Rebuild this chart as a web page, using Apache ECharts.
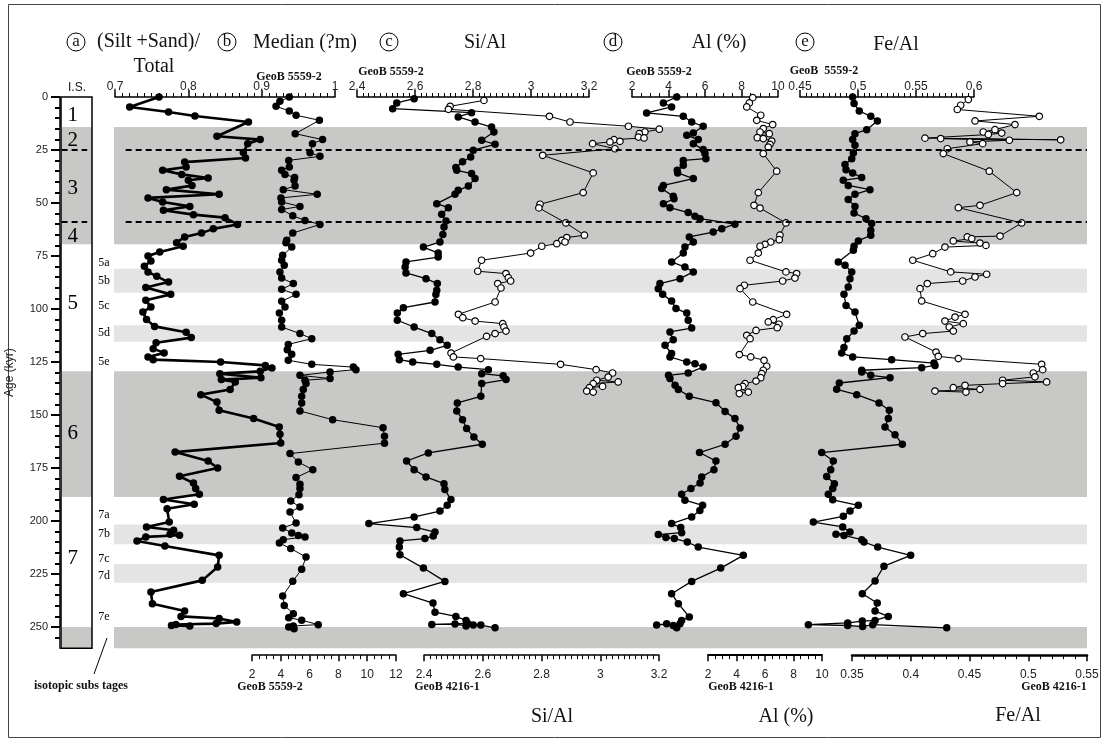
<!DOCTYPE html>
<html>
<head>
<meta charset="utf-8">
<script src="https://cdn.jsdelivr.net/npm/echarts@6/dist/echarts.min.js"></script>
<style>
html,body{margin:0;padding:0;background:#fff}
#chart{width:1106px;height:745px}
</style>
</head>
<body>
<div id="chart"></div>
<script>
// ---- Age framework (kyr) ----
const AGE_MIN = 0, AGE_MAX = 260;
const ageLabelTicks = [0, 25, 50, 75, 100, 125, 150, 175, 200, 225, 250];
const ageMinorTicks = [5,10,15,20,30,35,40,45,55,60,65,70,80,85,90,95,105,110,115,120,130,135,140,145,155,160,165,170,180,185,190,195,205,210,215,220,230,235,240,245,255];
const glacialBands = [[14.2, 69.5], [129.4, 188.7], [250, 260.8]];
const substageBands = [[81, 92.3], [107.7, 115.5], [201.6, 211], [220.3, 229.1]];
const boundaryAges = [25, 59];
const isotopeStages = [['1', 8.6], ['2', 20.5], ['3', 43], ['4', 65.7], ['5', 97.4], ['6', 158.7], ['7', 217.6]];
const isotopeSubstages = [['5a', 78], ['5b', 86.5], ['5c', 98.3], ['5d', 111.4], ['5e', 125], ['7a', 197.3], ['7b', 206], ['7c', 217.7], ['7d', 226], ['7e', 245]];

// ---- (a) (Silt+Sand)/Total, GeoB 5559-2 : [age, value] ----
const siltSand5559 = [[0,0.760],[4.7,0.720],[7.1,0.773],[9.0,0.809],[11.8,0.882],[18.5,0.839],[20.1,0.898],[22,0.881],[26.2,0.875],[28.8,0.878],[30.7,0.795],[33,0.797],[34.6,0.765],[36.5,0.791],[38.2,0.827],[39.3,0.800],[41.8,0.805],[43.7,0.770],[45.9,0.842],[47.6,0.745],[49.5,0.765],[51.6,0.802],[53.4,0.766],[55.5,0.807],[56.9,0.850],[60.1,0.867],[62.2,0.834],[64.2,0.818],[66,0.795],[68.7,0.784],[70.4,0.793],[73.1,0.761],[75,0.745],[77.4,0.749],[79.8,0.740],[82.5,0.745],[84.6,0.757],[87.3,0.773],[89.9,0.742],[93.1,0.776],[95.9,0.742],[99.1,0.749],[101.4,0.738],[105,0.743],[108.2,0.754],[111,0.797],[113.5,0.804],[115.9,0.756],[118.7,0.752],[120.7,0.767],[122.6,0.745],[123.9,0.752],[125,0.844],[126.6,0.905],[127.8,0.914],[129.4,0.898],[130.5,0.843],[132.4,0.899],[133.3,0.845],[134.4,0.864],[138,0.857],[140.4,0.817],[143.9,0.839],[147.8,0.842],[151.7,0.889],[155.7,0.924],[159.1,0.925],[163.2,0.926],[167.5,0.782],[171.7,0.827],[175,0.840],[178.9,0.788],[182.1,0.807],[184.7,0.810],[187.4,0.815],[189.9,0.766],[192.1,0.808],[194.2,0.771],[200.5,0.774],[202.8,0.743],[204.4,0.780],[206.3,0.775],[206.7,0.788],[207.5,0.742],[209.4,0.730],[211.8,0.768],[216.2,0.842],[221.7,0.840],[228,0.819],[233.5,0.749],[239,0.751],[242.5,0.795],[245,0.790],[246,0.842],[247.6,0.866],[248.4,0.838],[248.8,0.783],[249.3,0.777],[249.5,0.802]];

// ---- (b) Median grain size, GeoB 5559-2 ----
const median5559 = [[0,4.59],[2,3.94],[4.4,3.67],[6.6,4.59],[8.6,5.06],[11,6.68],[17.3,5.0],[20.1,6.9],[22,6.2],[26.3,6.03],[28,6.72],[29.9,4.55],[33,4.59],[34.6,4.06],[36.5,4.29],[38,4.96],[39.3,4.92],[42,4.99],[43.7,4.17],[45.9,6.53],[47.6,4.01],[49.5,4.06],[51.6,5.33],[53.1,4.06],[56,4.83],[58.2,5.68],[60.1,6.72],[64.2,4.83],[67.6,4.41],[68.7,4.36],[70.8,4.76],[74.7,4.13],[77,4.06],[79.4,4.24],[82.5,3.94],[85.4,4.06],[88,4.87],[90.7,4.06],[93.1,5.06],[96.4,4.06],[99.1,4.29],[101.9,3.9],[105.3,4.06],[108.5,4.06],[111.6,5.33],[114,6.15],[116.7,4.52],[119.2,4.45],[121.4,4.76],[124.2,4.52],[126.1,6.15],[127.4,9.04],[128.6,9.22],[129.7,7.42],[131.3,5.33],[132.8,7.42],[133.6,5.68],[135.2,5.75],[138,5.56],[141.2,5.45],[144.3,5.45],[148.1,5.33],[152.2,7.6],[156,11.1],[160,11.2],[163.3,11.2],[168.2,4.64],[172.2,5.22],[175.8,6.22],[179.5,5.06],[182.7,5.33],[184.7,5.33],[187.6,5.26],[190.6,4.69],[193.4,5.33],[195.8,4.64],[201,5.06],[203.3,4.13],[205.7,4.76],[206.8,5.22],[207.5,5.68],[208.8,4.17],[210.4,3.9],[213,4.69],[217,5.75],[222.8,5.45],[228.4,4.83],[235.4,4.13],[239.8,4.24],[243.7,4.87],[245.6,4.55],[246.8,5.45],[248.9,6.6],[249.5,4.87],[250,4.55],[250.8,4.92]];

// ---- (c) Si/Al ----
const siAl5559 = [[0.8,2.597],[2.8,2.537],[5.5,2.523],[7.4,2.795],[9.4,2.749],[11.8,2.807],[14.2,2.864],[16.5,2.872],[20.4,2.83],[22.3,2.876],[25.1,2.801],[28.3,2.792],[30.6,2.764],[33.3,2.741],[34.6,2.744],[36.1,2.795],[38.5,2.807],[42,2.784],[44,2.749],[45.9,2.738],[50.3,2.675],[52.2,2.715],[55.3,2.692],[58.5,2.707],[61.3,2.7],[64.8,2.696],[68.4,2.686],[70.8,2.629],[73.6,2.68],[75.5,2.68],[77.8,2.569],[80.2,2.566],[83,2.569],[85.7,2.638],[88,2.677],[91.2,2.675],[93.2,2.672],[96.7,2.669],[99.4,2.56],[101.9,2.539],[105.3,2.539],[108.5,2.597],[111.6,2.658],[114.5,2.686],[117.1,2.711],[119.5,2.652],[121.4,2.542],[123.9,2.546],[125,2.592],[126.1,2.675],[127.4,2.749],[128.6,2.853],[130.5,2.83],[131.5,2.904],[133.3,2.914],[135.2,2.83],[141.2,2.827],[144.3,2.746],[148.1,2.744],[152.2,2.764],[156.4,2.778],[160.4,2.803],[163.8,2.832],[167.9,2.646],[171.7,2.571],[175.8,2.597],[179.2,2.638],[182.4,2.7],[185.2,2.703],[189.9,2.724],[192.6,2.711],[195.3,2.686],[198.1,2.597],[201.2,2.441],[203.1,2.606],[205.2,2.669],[207.1,2.663],[208.3,2.634],[209.4,2.548],[212.3,2.546],[215.9,2.548],[222.2,2.629],[228.5,2.703],[234.3,2.56],[238.7,2.662],[243,2.669],[245,2.741],[246.9,2.776],[248.3,2.782],[248.8,2.658],[248.6,2.738],[249.5,2.776],[249.1,2.801],[249.1,2.827],[250.4,2.876]];
const siAl4216 = [[1.6,2.604],[4.4,2.489],[5.8,2.483],[9.1,2.827],[11.8,2.897],[13.8,3.096],[15.2,3.201],[16.5,3.152],[17.3,3.133],[18.9,3.13],[19.3,3.149],[20.1,3.047],[20.9,3.067],[21.2,3.033],[22,2.974],[24.4,3.05],[27.5,2.804],[35.8,2.976],[45.1,2.942],[50.6,2.795],[52.3,2.791],[59.4,2.883],[65.2,2.946],[66.3,2.886],[67.6,2.869],[68.4,2.88],[69.2,2.852],[70.4,2.801],[73.6,2.763],[77,2.596],[82.2,2.583],[83.3,2.679],[85.2,2.687],[86.8,2.695],[88,2.651],[90.1,2.662],[96.7,2.642],[102.5,2.517],[104.1,2.532],[105.7,2.574],[106.9,2.668],[108.5,2.672],[110.4,2.679],[111.6,2.642],[112.9,2.613],[120.8,2.492],[122.6,2.5],[123.4,2.593],[126.1,2.865],[128.6,2.986],[130.2,3.042],[132.1,3.027],[133.6,2.988],[134.4,3.061],[135.2,2.976],[136.5,3.008],[137.1,2.963],[138.7,2.954],[139.2,2.976]];

// ---- (d) Al (%) ----
const al5559 = [[0,4.45],[2.8,3.72],[4.7,4.17],[7.5,2.8],[9.1,4.81],[11.8,5.27],[13.8,5.9],[17,5.36],[18.1,5.0],[20.1,5.63],[22,5.36],[24.8,5.9],[26.7,6.0],[29.1,6.05],[29.9,4.81],[32.2,4.81],[34.6,4.48],[35.8,4.5],[38.5,5.36],[41.7,3.72],[43.2,3.63],[46.8,4.26],[48,4.3],[50.3,3.72],[52.2,4.08],[54.5,5.08],[56.3,5.45],[57.4,5.73],[60,7.64],[62.1,6.92],[63.7,6.45],[66,5.14],[68.4,5.36],[70.8,4.9],[73.6,4.81],[77.8,4.17],[80.2,4.9],[82.5,5.36],[85.7,4.63],[88,3.53],[90.4,3.44],[93.1,3.68],[96.2,4.17],[99.8,4.41],[101.9,5.0],[105.3,5.08],[109,5.27],[110.8,4.08],[114.5,4.26],[117.1,3.81],[121,4.17],[122.6,4.08],[125,5.0],[125.8,5.45],[127.4,5.9],[130.2,5.08],[131.3,4.0],[132.8,4.08],[136,4.36],[138,4.54],[141.2,5.14],[144.2,6.6],[148.3,7.1],[151.7,7.64],[156.1,7.92],[160,7.7],[163.8,7.1],[167.7,5.7],[171.7,6.6],[175.8,6.49],[179.2,5.82],[182.1,5.73],[184.7,5.23],[187.4,4.72],[190.2,4.9],[192.6,5.87],[195,5.72],[198.1,5.27],[201.2,4.17],[203.1,4.67],[205.5,4.72],[206.4,3.44],[207.8,3.86],[208.3,4.32],[209.9,5.03],[212.3,5.63],[216.2,8.1],[222.2,6.86],[228.5,5.27],[234.3,4.17],[239,4.54],[245.3,5.14],[246.9,4.72],[248.5,4.63],[249,3.35],[248.5,3.9],[249.3,4.26],[250.4,4.45]];
const al4216 = [[0.3,5.14],[2.8,4.9],[4.7,4.72],[8.6,5.7],[11,5.42],[13,6.54],[14.9,5.88],[16.5,5.65],[17.3,6.3],[19.2,5.46],[19.6,5.88],[20.8,6.47],[22.3,6.35],[23.6,6.23],[26.7,5.88],[35,6.82],[45.1,5.53],[51.1,5.23],[52.4,5.65],[59.4,7.47],[65.2,7.05],[67.3,7.0],[68.4,6.4],[69.5,6.0],[70.4,5.65],[73.6,5.53],[77,4.95],[82.5,7.47],[83.3,8.22],[85.4,8.1],[86.8,7.24],[88.8,4.55],[90.4,4.25],[96.7,5.14],[102.5,7.52],[105,6.58],[106.1,6.23],[107.2,6.98],[108.8,6.86],[110.1,5.37],[112.4,4.72],[114,4.95],[121.5,4.2],[122.6,5.0],[124.2,5.93],[127,6.12],[128.9,5.88],[130.5,5.77],[132.4,5.7],[134,5.37],[135.2,4.6],[136.5,4.44],[137.1,4.13],[139.2,4.83],[139.9,4.2]];

// ---- (e) Fe/Al ----
const feAl5559 = [[0,0.4954],[3.1,0.4966],[6.6,0.5011],[9.1,0.511],[11.3,0.5167],[15.4,0.5075],[17.3,0.4974],[20.1,0.4954],[22.8,0.4974],[26.4,0.496],[29.1,0.4946],[31.8,0.4888],[34.3,0.4897],[35.8,0.4954],[38,0.5032],[39.3,0.4873],[41.7,0.4916],[43.7,0.5103],[45.9,0.4974],[48.4,0.4916],[51.6,0.4974],[54.7,0.4966],[57.4,0.5069],[59.7,0.5118],[62.9,0.511],[65.2,0.511],[67.9,0.5003],[70.4,0.4966],[72.3,0.496],[77.8,0.483],[79.4,0.4888],[82.5,0.4946],[85.7,0.4931],[89.6,0.4916],[93.1,0.4879],[98.3,0.4897],[101.4,0.4974],[107.7,0.5011],[110.4,0.4966],[114,0.4903],[118.2,0.4879],[120.8,0.4859],[122.6,0.4954],[123.9,0.529],[125.5,0.5655],[126.6,0.5664],[127.7,0.5549],[128.9,0.5032],[129.7,0.5032],[131.3,0.511],[132.4,0.5276],[134.9,0.4839],[137.9,0.4816],[140.4,0.4989],[144.3,0.5181],[147.8,0.527],[151.7,0.5262],[155.7,0.5233],[159.3,0.5319],[163.8,0.5382],[167.7,0.4687],[171.7,0.4787],[175.8,0.4765],[179,0.473],[182.4,0.4796],[184.7,0.4782],[187.4,0.4744],[190,0.4782],[192.6,0.5003],[195.3,0.4931],[197.8,0.4873],[200.5,0.4615],[202.8,0.4868],[205.2,0.4931],[206.3,0.481],[206.8,0.4879],[208.8,0.5032],[209.9,0.5052],[212.3,0.517],[216.2,0.5454],[221.3,0.5224],[228.3,0.5147],[234.3,0.5037],[238.7,0.5166],[242.5,0.5147],[245,0.5261],[246.9,0.5147],[247.2,0.5037],[248.1,0.4911],[248.9,0.4572],[249.3,0.4911],[249.8,0.504],[248.9,0.5127],[250.4,0.5765]];
const feAl4216 = [[1.2,0.449],[3.9,0.4425],[5.9,0.4396],[9.1,0.5094],[11.3,0.4547],[13,0.4887],[15.4,0.4717],[16.5,0.4617],[17,0.4774],[17.7,0.466],[19.4,0.4121],[20.2,0.5276],[19.6,0.4255],[20.4,0.4839],[21.2,0.4504],[22,0.4612],[24.4,0.4311],[26.7,0.4277],[35,0.4668],[45.1,0.4902],[51.1,0.4589],[52.2,0.4405],[59.4,0.4944],[65.6,0.476],[66,0.4481],[66.8,0.4519],[67.9,0.4362],[68.9,0.4589],[70,0.464],[70.8,0.4291],[73.9,0.4187],[77,0.4017],[82.5,0.434],[83.6,0.4646],[84.9,0.4547],[86.8,0.4442],[88,0.4141],[90.4,0.4079],[96.2,0.4093],[102.5,0.4462],[103.8,0.4377],[105.7,0.4291],[106.9,0.4447],[108.5,0.4328],[110.4,0.4362],[111.6,0.4102],[113.2,0.3951],[120.3,0.4215],[122.3,0.4234],[123.4,0.4405],[126.1,0.5114],[128.6,0.5123],[130.2,0.5043],[132,0.5057],[133.6,0.4782],[134.4,0.5157],[135.2,0.4782],[136,0.4462],[137.1,0.4362],[137.9,0.4589],[138.7,0.4206],[139.2,0.447]];

// ---- layout ----
const SERIF = "'Liberation Serif','Times New Roman',serif";
const SANS = "'Liberation Sans',Arial,sans-serif";
const TOP = 97, HEIGHT = 551.2;

const gridBoxes = [
  [60, 32],   // 0 isotope stages
  [94, 20],   // 1 substage labels
  [114, 973], // 2 background bands
  [115, 220], // 3 (a)
  [252, 144], // 4 (b)
  [357, 232], // 5 (c) GeoB 5559-2
  [424, 235], // 6 (c) GeoB 4216-1
  [632, 146], // 7 (d) GeoB 5559-2
  [708, 114], // 8 (d) GeoB 4216-1
  [800, 174], // 9 (e) GeoB 5559-2
  [852, 235], // 10 (e) GeoB 4216-1
  [60, 32]    // 11 age scale
];
const grid = gridBoxes.map(([l, w]) => ({left: l, width: w, top: TOP, height: HEIGHT, containLabel: false}));

function hiddenX(gi) {
  return {gridIndex: gi, type: 'value', min: 0, max: 1, show: false};
}
function scaleAxis(gi, pos, min, max, interval, minor, lineW) {
  const top = pos === 'top';
  return {
    gridIndex: gi, type: 'value', position: pos, min, max, interval,
    offset: top ? 0 : 7,
    axisLine: {show: true, onZero: false, lineStyle: {color: '#000', width: lineW}},
    axisTick: {show: true, length: top ? 7 : 6, lineStyle: {color: '#000', width: 1.5}},
    minorTick: {show: true, splitNumber: minor, length: 4, lineStyle: {color: '#000', width: 1}},
    axisLabel: {show: true, margin: top ? 4 : 13, fontSize: 12, color: '#222', fontFamily: SANS},
    splitLine: {show: false}, minorSplitLine: {show: false}
  };
}
const xAxis = [
  hiddenX(0), hiddenX(1), hiddenX(2),
  scaleAxis(3, 'top', 0.7, 1.0, 0.1, 10, 1.5),
  scaleAxis(4, 'bottom', 2, 12, 2, 4, 1.5),
  scaleAxis(5, 'top', 2.4, 3.2, 0.2, 10, 1.5),
  scaleAxis(6, 'bottom', 2.4, 3.2, 0.2, 10, 1.5),
  scaleAxis(7, 'top', 2, 10, 2, 4, 1.5),
  scaleAxis(8, 'bottom', 2, 10, 2, 4, 2),
  scaleAxis(9, 'top', 0.45, 0.6, 0.05, 10, 1.5),
  scaleAxis(10, 'bottom', 0.35, 0.55, 0.05, 5, 2.5),
  hiddenX(11)
];

const yAxis = grid.map((g, i) => ({
  gridIndex: i, type: 'value', min: AGE_MIN, max: AGE_MAX, inverse: true, show: false
}));
// labelled age scale
yAxis[11] = {
  gridIndex: 11, type: 'value', min: AGE_MIN, max: AGE_MAX, inverse: true, position: 'left',
  name: 'Age (kyr)', nameLocation: 'middle', nameGap: 44, nameRotate: 90,
  nameTextStyle: {fontSize: 12, color: '#222', fontFamily: SANS},
  axisLine: {show: true, onZero: false, lineStyle: {color: '#000', width: 1.5}},
  axisTick: {show: true, length: 9, customValues: ageLabelTicks, lineStyle: {color: '#000', width: 2}},
  axisLabel: {show: true, margin: 12, fontSize: 11, color: '#222', fontFamily: SANS, customValues: ageLabelTicks},
  splitLine: {show: false}
};
// minor age ticks
yAxis.push({
  gridIndex: 11, type: 'value', min: AGE_MIN, max: AGE_MAX, inverse: true, position: 'left',
  axisLine: {show: false, onZero: false},
  axisTick: {show: true, length: 5, customValues: ageMinorTicks, lineStyle: {color: '#000', width: 2}},
  axisLabel: {show: false}, splitLine: {show: false}
});

const DARK = '#c8c8c6', LIGHT = '#e4e4e4';
const dashStyle = {color: '#000', width: 2, type: [6, 4]};

const series = [];

// background bands and stage boundaries
series.push({
  type: 'line', xAxisIndex: 2, yAxisIndex: 2, data: [[0.5, 0]], symbol: 'none',
  lineStyle: {opacity: 0}, silent: true, z: 1,
  markArea: {
    silent: true,
    data: glacialBands.map(b => [{xAxis: 0, yAxis: b[0], itemStyle: {color: DARK}}, {xAxis: 1, yAxis: b[1]}])
      .concat(substageBands.map(b => [{xAxis: 0, yAxis: b[0], itemStyle: {color: LIGHT}}, {xAxis: 1, yAxis: b[1]}]))
  },
  markLine: {
    silent: true, symbol: 'none', label: {show: false}, lineStyle: dashStyle,
    data: boundaryAges.map(a => [{coord: [0.012, a]}, {coord: [1, a]}])
  }
});
series.push({
  type: 'line', xAxisIndex: 0, yAxisIndex: 0, data: [[0.5, 0]], symbol: 'none',
  lineStyle: {opacity: 0}, silent: true, z: 1,
  markArea: {silent: true, data: glacialBands.map(b => [{xAxis: 0, yAxis: b[0], itemStyle: {color: DARK}}, {xAxis: 1, yAxis: b[1]}])},
  markLine: {
    silent: true, symbol: 'none', label: {show: false}, lineStyle: dashStyle,
    data: boundaryAges.map(a => [{coord: [0.05, a]}, {coord: [0.85, a]}])
  }
});

// stage and substage names
const nameLabel = (size) => ({show: true, position: 'inside', formatter: '{b}', fontSize: size, color: '#000',
  textBorderWidth: 0, fontFamily: SERIF});
series.push({
  type: 'scatter', xAxisIndex: 0, yAxisIndex: 0, symbolSize: 1, itemStyle: {color: 'rgba(0,0,0,0)', opacity: 1}, silent: true, z: 5,
  data: isotopeStages.map(s => ({name: s[0], value: [0.4, s[1]]})),
  label: nameLabel(21)
});
series.push({
  type: 'scatter', xAxisIndex: 1, yAxisIndex: 1, symbolSize: 1, itemStyle: {color: 'rgba(0,0,0,0)', opacity: 1}, silent: true, z: 5,
  data: isotopeSubstages.map(s => ({name: s[0], value: [0.5, s[1]]})),
  label: nameLabel(12)
});

function profile(axisIdx, pts, lineWidth, open, size) {
  return {
    type: 'line', xAxisIndex: axisIdx, yAxisIndex: axisIdx,
    data: pts.map(p => [p[1], p[0]]),
    symbol: 'circle', symbolSize: size, showSymbol: true,
    lineStyle: {color: '#000', width: lineWidth},
    itemStyle: open ? {color: '#fff', borderColor: '#000', borderWidth: 1.2} : {color: '#000', borderColor: '#000', borderWidth: 0},
    silent: true, z: open ? 4 : 3, clip: false
  };
}
series.push(profile(3, siltSand5559, 2.6, false, 7.5));
series.push(profile(4, median5559, 1, false, 7.5));
series.push(profile(5, siAl5559, 1.3, false, 7.5));
series.push(profile(6, siAl4216, 1, true, 6.5));
series.push(profile(7, al5559, 1.3, false, 7.5));
series.push(profile(8, al4216, 1, true, 6.5));
series.push(profile(9, feAl5559, 1.3, false, 7.5));
series.push(profile(10, feAl4216, 1, true, 6.5));

// ---- texts and frame ----
function txt(x, y, text, font, align) {
  return {type: 'text', x, y, z: 50, silent: true,
    style: {text, font, fill: '#111', align: align || 'center', verticalAlign: 'middle',
            textAlign: align || 'center', textVerticalAlign: 'middle'}};
}
function letter(cx, cy, ch) {
  return [
    {type: 'circle', z: 50, silent: true, shape: {cx, cy, r: 9}, style: {fill: '#fff', stroke: '#000', lineWidth: 1}},
    txt(cx, cy, ch, '17px ' + SERIF)
  ];
}
const TITLE = '20px ' + SERIF;
const GEOB = 'bold 12px ' + SERIF;
const graphic = [].concat(
  [{type: 'rect', z: 0, silent: true, shape: {x: 8.5, y: 4.5, width: 1092, height: 733}, style: {fill: 'none', stroke: '#444', lineWidth: 1}}],
  [{type: 'rect', z: 60, silent: true, shape: {x: 61, y: TOP, width: 31, height: 551.2}, style: {fill: 'none', stroke: '#000', lineWidth: 1.5}}],
  letter(76, 42, 'a'), letter(227, 42, 'b'), letter(389, 42, 'c'), letter(613, 42, 'd'), letter(805, 42, 'e'),
  [
    txt(97, 42, '(Silt +Sand)/', TITLE, 'left'),
    txt(154, 67, 'Total', TITLE),
    txt(305, 43, 'Median (?m)', TITLE),
    txt(485, 43, 'Si/Al', TITLE),
    txt(719, 43, 'Al (%)', TITLE),
    txt(896, 45, 'Fe/Al', TITLE),
    txt(77, 88, 'I.S.', '12px ' + SANS),
    txt(289, 77, 'GeoB 5559-2', GEOB),
    txt(391, 72, 'GeoB 5559-2', GEOB),
    txt(659, 72, 'GeoB 5559-2', GEOB),
    txt(824, 71, 'GeoB  5559-2', GEOB),
    txt(270, 687, 'GeoB 5559-2', GEOB),
    txt(447, 687, 'GeoB 4216-1', GEOB),
    txt(741, 687, 'GeoB 4216-1', GEOB),
    txt(1054, 687, 'GeoB 4216-1', GEOB),
    txt(552, 717, 'Si/Al', TITLE),
    txt(786, 717, 'Al (%)', TITLE),
    txt(1018, 716, 'Fe/Al', TITLE),
    txt(81, 686, 'isotopic subs tages', GEOB),
    {type: 'line', z: 50, silent: true, shape: {x1: 107, y1: 638, x2: 94, y2: 674}, style: {stroke: '#000', lineWidth: 1}}
  ]
);

const chart = echarts.init(document.getElementById('chart'), null, {renderer: 'canvas'});
chart.setOption({
  animation: false,
  backgroundColor: '#fff',
  grid, xAxis, yAxis, series, graphic
});
</script>
</body>
</html>
